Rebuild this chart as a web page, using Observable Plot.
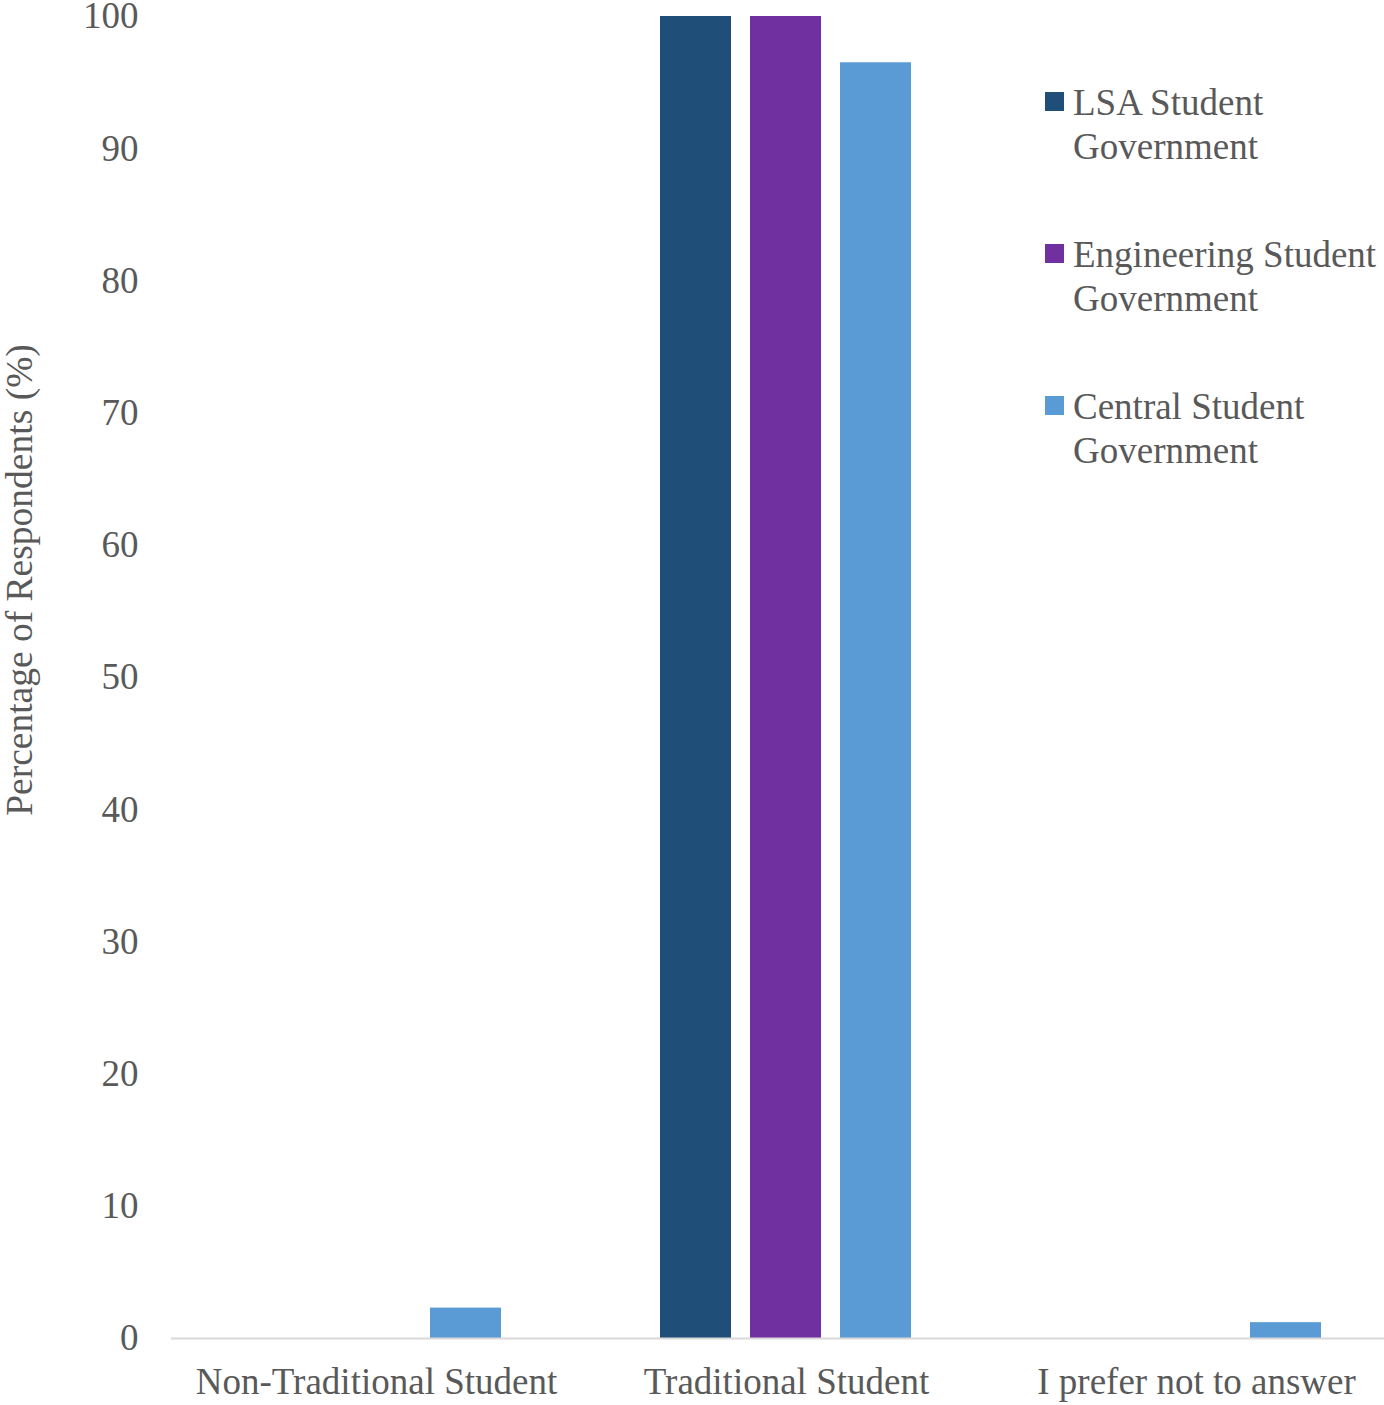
<!DOCTYPE html>
<html>
<head>
<meta charset="utf-8">
<script src="https://cdn.jsdelivr.net/npm/d3@7"></script>
<script src="https://cdn.jsdelivr.net/npm/@observablehq/plot@0.6"></script>
<style>
  html, body { margin: 0; padding: 0; background: #fff; overflow: hidden; }
  #wrap { position: relative; width: 1384px; height: 1405px; font-family: "Liberation Serif", "Times New Roman", serif; color: #595959; }
  #ytitle { position: absolute; left: 19px; top: 580px; transform: translate(-50%, -50%) rotate(-90deg); white-space: nowrap; font-size: 37.5px; }
  .leg { position: absolute; left: 1045px; font-size: 37px; line-height: 44px; }
  .leg .sw { position: absolute; left: 0; top: 11px; width: 19px; height: 19px; }
  .leg .tx { margin-left: 28px; white-space: nowrap; }
</style>
</head>
<body>
<div id="wrap">
  <div id="chart"></div>
  <div id="ytitle">Percentage of Respondents (%)</div>
</div>
<script>
const categories = ["Non-Traditional Student", "Traditional Student", "I prefer not to answer"];
const seriesNames = ["LSA Student Government", "Engineering Student Government", "Central Student Government"];
const legendLines = [["LSA Student", "Government"], ["Engineering Student", "Government"], ["Central Student", "Government"]];
const seriesColors = ["#1F4E79", "#7030A0", "#5B9BD5"];
const lsaValues = [0, 100, 0];
const engValues = [0, 100, 0];
const csgValues = [2.3, 96.5, 1.2];
const yTicks = [0, 10, 20, 30, 40, 50, 60, 70, 80, 90, 100];

const allValues = [lsaValues, engValues, csgValues];
const data = [];
categories.forEach((c, i) => {
  seriesNames.forEach((s, j) => data.push({category: c, series: s, value: allValues[j][i]}));
});

const chart = Plot.plot({
  width: 1384,
  height: 1405,
  marginTop: 16,
  marginBottom: 67,
  marginLeft: 170,
  marginRight: 0,
  style: {fontFamily: "Liberation Serif, Times New Roman, serif", color: "#595959", background: "white", overflow: "visible"},
  fx: {domain: categories, range: [170, 1402], padding: 0, label: null},
  x: {domain: seriesNames, paddingInner: 0.209, paddingOuter: 0.861, axis: null},
  y: {domain: [0, 100], label: null},
  color: {domain: seriesNames, range: seriesColors},
  marks: [
    Plot.axisFx({anchor: "bottom", tickSize: 0, tickPadding: 29, fontSize: 37, label: null, fill: "#595959"}),
    Plot.axisY({ticks: yTicks, tickSize: 0, tickPadding: 33, fontSize: 37, label: null, fill: "#595959"}),
    Plot.barY(data, {fx: "category", x: "series", y: "value", fill: "series"}),
    Plot.ruleY([0], {stroke: "#d9d9d9", strokeWidth: 2})
  ]
});
document.getElementById("chart").appendChild(chart);

const wrap = document.getElementById("wrap");
legendLines.forEach((lines, i) => {
  const d = document.createElement("div");
  d.className = "leg";
  d.style.top = (81 + i * 152) + "px";
  const sw = document.createElement("div");
  sw.className = "sw";
  sw.style.background = seriesColors[i];
  d.appendChild(sw);
  const tx = document.createElement("div");
  tx.className = "tx";
  tx.innerHTML = lines.join("<br>");
  d.appendChild(tx);
  wrap.appendChild(d);
});
</script>
</body>
</html>
